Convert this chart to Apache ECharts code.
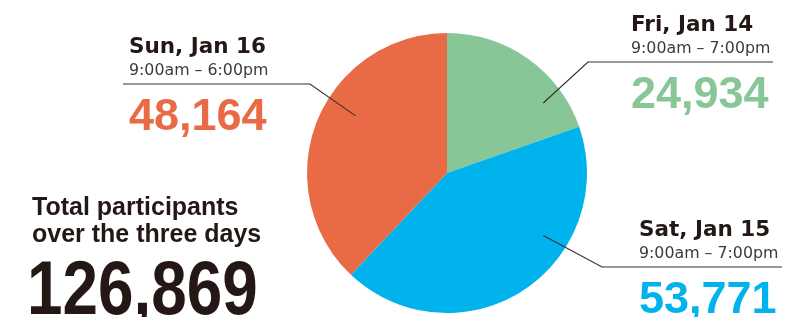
<!DOCTYPE html>
<html>
<head>
<meta charset="utf-8">
<script src="https://cdn.jsdelivr.net/npm/echarts@6/dist/echarts.min.js"></script>
<style>
  html, body { margin: 0; padding: 0; background: #fff; }
  #chart { width: 787px; height: 317px; }
</style>
</head>
<body>
<div id="chart"></div>
<script>
// participants per day
const days = ['Fri, Jan 14', 'Sat, Jan 15', 'Sun, Jan 16'];
const hours = ['9:00am – 7:00pm', '9:00am – 7:00pm', '9:00am – 6:00pm'];
const participants = [24934, 53771, 48164];
const colors = ['#88c697', '#00b3ec', '#e86b46'];

const total = participants.reduce((a, b) => a + b, 0);
const fmt = (n) => n.toLocaleString('en-US');

const center = [447, 173];
const radius = 140;
const sans = '"Liberation Sans", Arial, sans-serif';
const deja = '"DejaVu Sans", sans-serif';

// leader line: start (angle from 12 o'clock, share of radius), bend, end x; text block top-left
const callouts = [
  { angle: 54, r: 0.85, bend: [588, 62], endX: 773, text: [631, 16] },
  { angle: 123, r: 0.82, bend: [602, 267], endX: 782, text: [639, 221] },
  { angle: 302, r: 0.77, bend: [310, 84], endX: 123, text: [129, 38] },
];

const polar = (deg, share) => {
  const a = (deg * Math.PI) / 180;
  return [center[0] + radius * share * Math.sin(a), center[1] - radius * share * Math.cos(a)];
};

const pieData = days.map((d, i) => ({ name: d, value: participants[i], itemStyle: { color: colors[i] } }));

const chart = echarts.init(document.getElementById('chart'));
chart.setOption({
  animation: false,
  title: {
    text: 'Total participants\nover the three days',
    left: 27,
    top: 190,
    textStyle: { fontFamily: sans, fontSize: 25, fontWeight: 'bold', lineHeight: 27, color: '#231815' },
  },
  graphic: [
    {
      type: 'text',
      x: 27,
      y: 255,
      scaleX: 0.84,
      style: {
        text: fmt(total),
        font: 'bold 76px ' + sans,
        lineHeight: 76,
        fill: '#231815',
        verticalAlign: 'top',
      },
    },
  ],
  series: [
    {
      // the slices
      type: 'pie',
      center: center,
      radius: radius,
      startAngle: 90,
      silent: true,
      label: { show: false },
      labelLine: { show: false },
      data: pieData,
    },
    {
      // same slices, invisible, carrying the callouts above the pie
      type: 'pie',
      z: 3,
      center: center,
      radius: radius,
      startAngle: 90,
      silent: true,
      avoidLabelOverlap: false,
      itemStyle: { color: 'rgba(0,0,0,0)' },
      data: days.map((d, i) => ({ name: d, value: participants[i] })),
      label: {
        show: true,
        position: 'outside',
        overflow: 'none',
        formatter: (p) => `{t|${p.name}}\n{h|${hours[p.dataIndex]}}\n{v${p.dataIndex}|${fmt(p.value)}}`,
        rich: {
          t: { fontFamily: deja, fontSize: 21.5, fontWeight: 'bold', lineHeight: 18, color: '#231815' },
          h: { fontFamily: deja, fontSize: 15.8, lineHeight: 30, color: '#3e3a39' },
          v0: { fontFamily: sans, fontSize: 45, fontWeight: 'bold', lineHeight: 64, color: colors[0] },
          v1: { fontFamily: sans, fontSize: 45, fontWeight: 'bold', lineHeight: 64, color: colors[1] },
          v2: { fontFamily: sans, fontSize: 45, fontWeight: 'bold', lineHeight: 64, color: colors[2] },
        },
      },
      labelLine: {
        show: true,
        lineStyle: { color: '#333', width: 1.2, opacity: 1 },
      },
      labelLayout: (params) => {
        const c = callouts[params.dataIndex];
        return {
          x: c.text[0],
          y: c.text[1],
          align: 'left',
          verticalAlign: 'top',
          labelLinePoints: [polar(c.angle, c.r), c.bend, [c.endX, c.bend[1]]],
        };
      },
    },
  ],
});
</script>
</body>
</html>
